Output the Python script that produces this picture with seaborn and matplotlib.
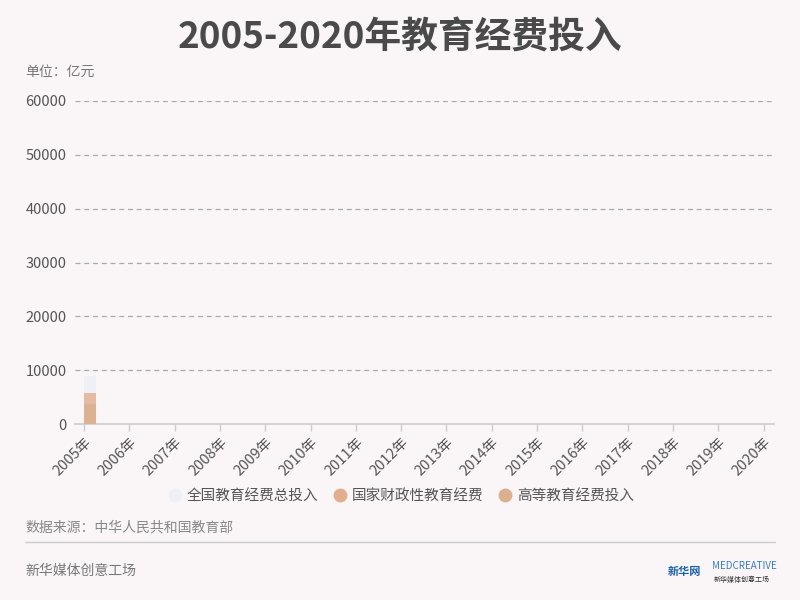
import matplotlib
matplotlib.use("Agg")
import matplotlib.pyplot as plt
import seaborn as sns
import pandas as pd
import numpy as np
from matplotlib.lines import Line2D

years = [f"{y}年" for y in range(2005, 2021)]
total_input = [8900] + [np.nan] * 15
fiscal_input = [5750] + [np.nan] * 15
higher_input = [3700] + [np.nan] * 15
series_names = ["全国教育经费总投入", "国家财政性教育经费", "高等教育经费投入"]
series_colors = ["#eef0f6", "#e3ae8e", "#dcb08f"]
yticks = [0, 10000, 20000, 30000, 40000, 50000, 60000]

sns.set_theme(style="white")
plt.rcParams['font.family'] = ['Noto Sans CJK SC', 'DejaVu Sans']

bg = "#faf6f7"
fig = plt.figure(figsize=(8, 6), dpi=100, facecolor=bg)
ax = fig.add_axes([75/800, 1-424/600, (774-75)/800, (424-101)/600])
ax.set_facecolor(bg)

df = pd.DataFrame({"year": years, "total": total_input,
                   "fiscal": fiscal_input, "higher": higher_input})
alphas = [1.0, 0.8, 0.8]
for col, c, a in zip(["total", "fiscal", "higher"], series_colors, alphas):
    sns.barplot(data=df, x="year", y=col, order=years, color=c,
                width=0.265, ax=ax, saturation=1, errorbar=None, zorder=3,
                linewidth=0, edgecolor=c, alpha=a)

ax.set_ylim(0, 60000)
ax.set_xlim(-0.33, 15.1)
ax.set_yticks(yticks)
ax.set_yticklabels([str(v) for v in yticks], fontsize=10.5, color="#555555")
ax.set_xticks(np.arange(16) - 0.13)
ax.set_xticklabels(years, rotation=45, ha="right", va="top",
                   rotation_mode="anchor", fontsize=10.5, color="#555555")
ax.set_xlabel("")
ax.set_ylabel("")
for v in yticks[1:]:
    ax.axhline(v, color="#aaaaaa", lw=0.9, ls=(0, (4, 3)), zorder=1)
for s in ["top", "right", "left"]:
    ax.spines[s].set_visible(False)
ax.spines["bottom"].set_color("#cccccc")
ax.spines["bottom"].set_linewidth(1.2)
ax.tick_params(axis="x", length=5, color="#cccccc", width=1, pad=3, bottom=True)
ax.tick_params(axis="y", length=0, pad=6)

handles = [Line2D([0], [0], marker="o", ls="", markersize=9,
                  markerfacecolor=c, markeredgecolor=c) for c in series_colors]
fig.legend(handles, series_names, loc="center", bbox_to_anchor=(0.5, 1-496/600),
           ncol=3, frameon=False, fontsize=10.5, labelcolor="#555555",
           handletextpad=0.2, columnspacing=0.9, handlelength=1.2)

fig.text(0.5, 1-38/600, "2005-2020年教育经费投入", ha="center", va="center",
         fontsize=26.5, fontweight="bold", color="#4a4a4a")
fig.text(25/800, 1-72/600, "单位：亿元", ha="left", va="center",
         fontsize=10, color="#777777")
fig.text(25/800, 1-527/600, "数据来源：中华人民共和国教育部", ha="left", va="center",
         fontsize=10, color="#888888")
fig.add_artist(Line2D([25/800, 775/800], [1-542/600, 1-542/600],
                      color="#cccccc", lw=1, transform=fig.transFigure))
fig.text(25/800, 1-571/600, "新华媒体创意工场", ha="left", va="center",
         fontsize=10, color="#777777")
fig.text(668/800, 1-572/600, "新华网", ha="left", va="center",
         fontsize=8, color="#1a5fa8", fontweight="bold")
fig.text(712/800, 1-566/600, "MEDCREATIVE", ha="left", va="center",
         fontsize=7, color="#3a7cc0")
fig.text(714/800, 1-580/600, "新华媒体创意工场", ha="left", va="center",
         fontsize=5, color="#333333")

fig.savefig("out.png", dpi=100, facecolor=bg)
